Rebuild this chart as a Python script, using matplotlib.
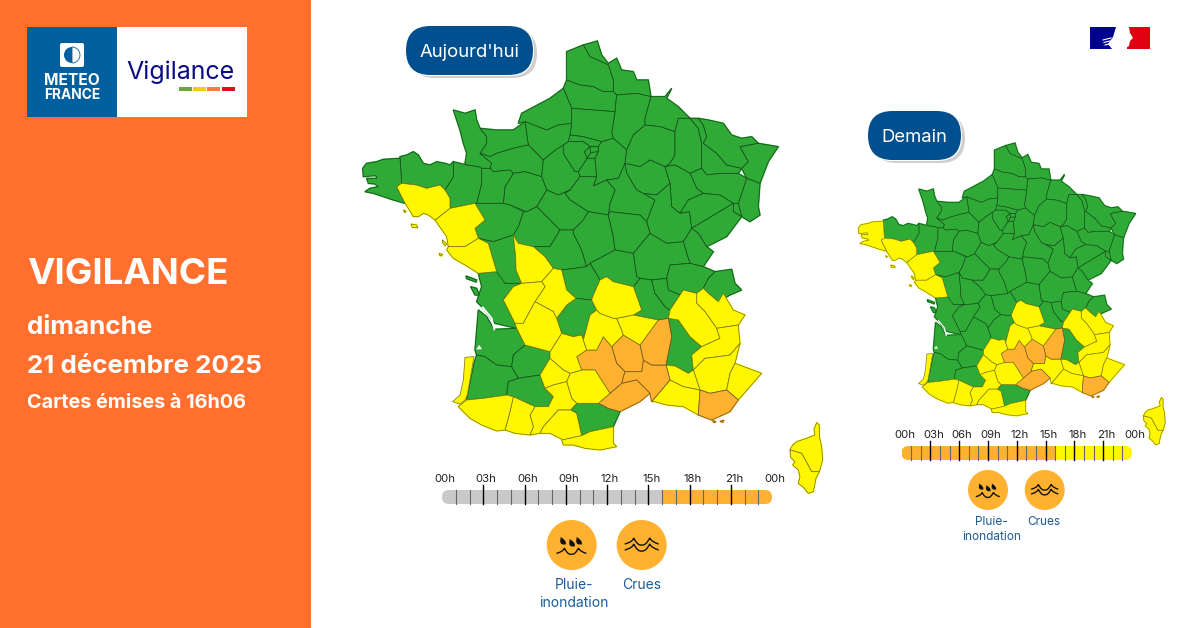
"""Carte de vigilance Meteo-France : deux cartes, frise horaire et pictos."""
import matplotlib
matplotlib.use("Agg")
import matplotlib.pyplot as plt
from matplotlib.patches import Polygon, Circle, Rectangle, FancyBboxPatch, Wedge, PathPatch
from matplotlib.path import Path

plt.rcParams["font.family"] = ["Inter", "DejaVu Sans"]

# ---------- donnees ----------
TITRE = "VIGILANCE"
JOUR = "dimanche"
DATE = "21 décembre 2025"
EMISSION = "Cartes émises à 16h06"
HEURES = ["00h", "03h", "06h", "09h", "12h", "15h", "18h", "21h", "00h"]
RISQUES = ["Pluie-\ninondation", "Crues"]

# niveau par heure (24 valeurs)
FRISE_AUJOURDHUI = ["passe"] * 16 + ["orange"] * 8
FRISE_DEMAIN = ["orange"] * 16 + ["jaune"] * 8

JAUNE_AUJOURDHUI = ["56", "44", "85", "86", "16", "87", "24", "46", "15", "43", "63", "38", "73",
                    "05", "04", "06", "84", "13", "82", "81", "31", "65", "64", "09", "66",
                    "2A", "2B", "40L"]
ORANGE_AUJOURDHUI = ["12", "48", "07", "30", "34", "83"]
JAUNE_DEMAIN = ["29", "56", "44", "85", "63", "15", "43", "46", "82", "81", "31", "65", "64",
                "09", "66", "30", "84", "13", "04", "05", "06", "38", "73", "2A", "2B", "40L"]
ORANGE_DEMAIN = ["12", "48", "07", "34", "83"]

NORD = {
    "59": [(700,45),(742,33),(755,75),(775,100),(800,85),(815,120),(850,125),(860,150),(895,150),(903,200),(860,190),(800,195),(790,185),(790,150),(775,105),(720,80)],
    "62": [(650,65),(700,45),(720,80),(775,105),(790,150),(790,185),(760,185),(730,170),(690,165),(650,150)],
    "80": [(640,175),(650,150),(690,165),(730,170),(760,185),(790,185),(800,195),(795,245),(730,240),(665,235)],
    "02": [(800,195),(860,190),(903,200),(885,265),(885,285),(850,315),(830,360),(790,325),(785,310),(795,245)],
    "08": [(903,200),(945,200),(965,175),(950,205),(985,230),(1020,265),(985,265),(975,305),(930,290),(885,285),(885,265)],
    "76": [(640,175),(665,235),(665,280),(625,285),(590,300),(525,275),(505,280),(515,250),(600,205)],
    "60": [(665,235),(730,240),(795,245),(785,310),(790,325),(755,335),(700,320),(660,315),(665,280)],
    "27": [(525,275),(590,300),(625,285),(665,280),(660,315),(655,335),(640,345),(610,365),(580,390),(550,360),(535,345),(530,310)],
    "14": [(390,295),(440,300),(490,300),(525,275),(530,310),(535,345),(490,355),(440,370),(420,380),(390,370),(410,340),(410,320)],
    "50": [(310,240),(345,250),(375,240),(380,270),(390,295),(410,320),(410,340),(390,370),(425,400),(420,415),(395,415),(385,410),(350,405),(345,400),(350,370),(340,340),(330,300)],
    "61": [(390,370),(420,380),(440,370),(490,355),(535,345),(550,360),(580,390),(575,440),(525,425),(490,430),(480,420),(430,425),(420,415),(425,400)],
    "28": [(580,390),(610,365),(640,345),(640,370),(675,425),(685,425),(690,440),(660,480),(625,495),(590,480),(575,440)],
    "95": [(660,315),(700,320),(755,335),(745,350),(720,350),(700,335),(655,335)],
    "78": [(640,345),(655,335),(700,335),(720,350),(703,365),(712,385),(685,425),(675,425),(640,370)],
    "91": [(712,385),(735,385),(740,440),(690,440),(685,425)],
    "77": [(745,350),(755,335),(790,325),(830,360),(825,400),(805,445),(770,450),(730,468),(740,440),(735,385),(745,365)],
    "92": [(703,365),(720,350),(722,368),(712,385)],
    "93": [(720,350),(745,350),(745,365),(722,368)],
    "94": [(722,368),(745,365),(735,385),(712,385)],
    "51": [(850,315),(885,285),(930,290),(975,305),(975,375),(960,400),(945,410),(900,390),(870,410),(825,400),(830,360)],
    "55": [(975,305),(985,265),(1020,265),(1045,295),(1055,340),(1055,415),(1020,430),(975,405),(945,410),(960,400),(975,375)],
    "54": [(1020,265),(1045,265),(1060,285),(1070,320),(1060,340),(1100,370),(1130,405),(1175,415),(1165,430),(1110,430),(1070,435),(1055,415),(1055,340),(1045,295)],
    "57": [(1045,265),(1075,270),(1120,280),(1145,315),(1175,325),(1205,320),(1225,340),(1170,350),(1195,395),(1175,415),(1130,405),(1100,370),(1060,340),(1070,320),(1060,285)],
    "67": [(1170,350),(1225,340),(1285,350),(1255,395),(1230,460),(1190,445),(1175,415),(1195,395)],
    "68": [(1190,445),(1230,460),(1225,530),(1230,555),(1200,575),(1175,560),(1165,520)],
    "88": [(1020,430),(1055,415),(1070,435),(1110,430),(1165,430),(1190,445),(1165,520),(1150,520),(1110,495),(1060,490),(1040,475)],
    "10": [(825,400),(870,410),(900,390),(945,410),(960,460),(920,495),(880,490),(860,480),(830,430)],
    "52": [(945,410),(975,405),(1020,430),(1040,475),(1060,490),(1015,510),(990,550),(965,530),(960,460)],
    "70": [(1015,510),(1060,490),(1110,495),(1150,520),(1100,550),(1025,595),(1018,545),(990,550)],
    "90": [(1150,520),(1165,520),(1175,560),(1150,545)],
    "25": [(1025,595),(1100,550),(1150,520),(1150,545),(1175,560),(1130,620),(1070,650),(1045,610)],
    "89": [(770,450),(805,445),(825,400),(830,430),(860,480),(880,490),(915,510),(890,575),(870,555),(780,545),(775,555),(780,520),(795,480)],
    "21": [(880,490),(920,495),(960,460),(965,530),(990,550),(1018,545),(1025,595),(1000,635),(950,640),(900,610),(890,575),(915,510)],
    "45": [(690,440),(740,440),(730,468),(770,450),(795,480),(780,520),(775,555),(715,545),(660,510),(645,490),(660,480)],
    "41": [(590,480),(625,495),(660,480),(645,490),(660,510),(715,545),(700,570),(670,600),(630,600),(600,570),(560,530)],
    "37": [(530,545),(560,530),(600,570),(630,600),(600,650),(550,650),(505,640),(490,615),(505,590),(520,545)],
    "72": [(490,430),(525,425),(575,440),(590,480),(560,530),(530,545),(480,525),(460,520),(465,470)],
    "53": [(395,415),(420,415),(430,425),(480,420),(490,430),(465,470),(460,520),(380,520),(395,460)],
    "35": [(310,395),(350,405),(385,410),(395,415),(395,460),(380,520),(375,520),(300,535),(300,505),(285,480),(310,440)],
    "49": [(375,520),(380,520),(460,520),(480,525),(520,545),(505,590),(490,615),(430,635),(385,625),(375,595),(405,570)],
    "44": [(375,520),(405,570),(375,595),(385,625),(345,650),(295,650),(290,620),(255,570),(300,535)],
    "56": [(140,470),(155,460),(200,465),(230,475),(270,465),(285,480),(300,505),(300,535),(255,570),(235,555),(220,550),(205,560),(190,560),(175,535),(165,520)],
    "22": [(150,380),(170,375),(190,365),(205,375),(220,400),(240,405),(260,395),(285,400),(300,405),(310,395),(310,440),(285,480),(270,465),(230,475),(200,465),(155,460)],
    "29": [(38,415),(50,400),(80,395),(100,388),(150,385),(155,460),(140,470),(165,520),(130,510),(100,500),(70,490),(45,485),(60,475),(85,470),(75,462),(55,460),(50,445),(80,445),(78,437),(60,438),(40,440)],
    "85": [(295,650),(345,650),(385,625),(415,640),(440,725),(385,730),(345,705),(310,685),(290,660)],
    "79": [(415,640),(385,625),(430,635),(490,615),(497,680),(498,720),(515,760),(465,760),(420,730),(440,725)],
    "86": [(490,615),(505,640),(550,650),(585,680),(610,715),(575,755),(515,760),(498,720),(497,680)],
    "36": [(600,650),(630,600),(670,600),(670,610),(695,660),(710,710),(635,720),(610,715),(585,680),(550,650)],
    "18": [(700,570),(715,545),(775,555),(790,620),(795,660),(720,700),(710,710),(695,660),(670,610),(670,600)],
    "58": [(775,555),(780,545),(870,555),(890,575),(900,610),(850,670),(795,660),(790,620)],
    "39": [(1000,635),(1025,595),(1045,610),(1070,650),(1090,665),(1060,710),(1020,700),(1010,670)],
    "71": [(900,610),(950,640),(1000,635),(1010,670),(1020,700),(960,705),(950,745),(905,750),(870,745),(860,740),(850,670)],
}

# meme echelle, ordonnees comptees depuis le bas de l'hexagone (+600)
SUD = {
    "01": [(950,145),(960,105),(1020,100),(1060,110),(1095,125),(1075,145),(1060,175),(1040,190),(1000,180),(990,195),(955,180)],
    "74": [(1095,125),(1145,118),(1155,160),(1175,180),(1140,195),(1105,215),(1075,190),(1060,175),(1075,145)],
    "73": [(1040,190),(1060,175),(1075,190),(1105,215),(1120,190),(1150,240),(1185,255),(1165,285),(1100,295),(1065,245),(1040,220)],
    "38": [(955,265),(960,240),(990,195),(1000,180),(1040,190),(1040,220),(1065,245),(1100,295),(1110,325),(1055,350),(1020,320),(985,270)],
    "26": [(955,265),(985,270),(1020,320),(1055,350),(1025,375),(1030,420),(1015,430),(975,408),(948,405),(965,320)],
    "05": [(1025,375),(1055,350),(1110,325),(1100,295),(1165,285),(1170,340),(1140,375),(1105,380),(1065,385),(1030,420)],
    "04": [(1030,420),(1065,385),(1105,380),(1140,375),(1170,340),(1155,400),(1140,430),(1130,480),(1080,490),(1050,480)],
    "06": [(1155,400),(1235,430),(1200,470),(1165,510),(1130,480),(1140,430)],
    "84": [(948,405),(975,408),(1015,430),(1030,420),(1050,480),(1000,470),(960,450)],
    "13": [(905,515),(960,450),(1000,470),(1050,480),(1045,555),(1000,530),(950,525),(915,515)],
    "83": [(1050,480),(1080,490),(1130,480),(1165,510),(1140,545),(1085,570),(1045,555)],
    "30": [(825,425),(875,425),(880,390),(905,405),(948,405),(960,450),(905,515),(900,490),(860,450),(815,460),(820,440)],
    "34": [(745,520),(780,490),(815,460),(860,450),(900,490),(870,515),(810,545),(775,535)],
    "07": [(870,345),(925,270),(955,265),(965,320),(948,405),(905,405),(880,390)],
    "48": [(785,350),(820,315),(870,345),(880,390),(875,425),(825,425),(800,400)],
    "12": [(680,380),(710,360),(740,360),(760,320),(785,350),(800,400),(825,425),(820,440),(815,460),(780,490),(735,420),(695,420)],
    "81": [(650,455),(660,430),(695,420),(735,420),(780,490),(745,520),(710,520),(680,520),(665,505)],
    "46": [(600,365),(635,310),(670,320),(695,315),(700,330),(710,360),(680,380),(695,420),(660,430),(640,420),(600,385)],
    "15": [(700,330),(720,255),(740,240),(750,250),(790,265),(800,265),(815,300),(820,315),(785,350),(760,320),(740,360),(710,360)],
    "43": [(800,265),(850,255),(925,270),(870,345),(820,315),(815,300)],
    "42": [(850,170),(870,145),(905,150),(915,190),(945,230),(960,240),(955,265),(925,270),(850,255),(875,240)],
    "69": [(905,150),(950,145),(955,180),(990,195),(960,240),(945,230),(915,190)],
    "63": [(750,150),(770,140),(790,155),(850,170),(875,240),(850,255),(800,265),(790,265),(750,250),(740,240),(725,210),(730,195)],
    "03": [(720,100),(795,60),(850,70),(860,140),(870,145),(850,170),(790,155),(770,140),(750,150)],
    "23": [(635,120),(710,110),(720,100),(750,150),(730,195),(725,210),(678,205),(650,180)],
    "19": [(620,265),(650,225),(678,205),(725,210),(740,240),(720,255),(700,330),(695,315),(670,320),(635,310)],
    "87": [(575,155),(610,115),(635,120),(650,180),(678,205),(650,225),(620,265),(610,245),(555,215),(585,170)],
    "16": [(460,210),(490,170),(515,160),(575,155),(585,170),(555,215),(520,280),(495,280)],
    "17": [(385,130),(440,125),(465,160),(515,160),(490,170),(460,210),(495,280),(500,295),(435,280),(400,235),(380,215),(395,170)],
    "24": [(500,295),(495,280),(520,280),(555,215),(610,245),(620,265),(635,310),(600,365),(525,345)],
    "33": [(385,240),(410,260),(432,298),(500,295),(525,345),(490,375),(485,410),(440,405),(405,380),(380,375),(375,360)],
    "40": [(380,375),(405,380),(440,405),(485,410),(505,445),(475,455),(470,495),(400,505),(350,510),(372,400)],
    "40L": [(345,382),(372,380),(352,495),(345,510),(330,522),(308,515),(330,495),(340,450)],
    "47": [(490,375),(525,345),(600,365),(600,385),(570,435),(505,445),(485,410)],
    "82": [(570,435),(600,385),(640,420),(660,430),(650,455),(610,465),(585,475)],
    "32": [(475,455),(505,445),(570,435),(585,475),(610,500),(595,530),(555,530),(490,500),(470,495)],
    "31": [(585,475),(610,465),(650,455),(665,505),(680,520),(662,540),(625,540),(580,590),(570,610),(540,615),(550,590),(540,555),(555,530),(595,530),(610,500)],
    "65": [(490,500),(555,530),(540,555),(550,590),(540,615),(495,610),(465,600),(480,545)],
    "64": [(325,530),(350,510),(400,505),(470,495),(490,500),(480,545),(465,600),(440,603),(395,585),(360,565)],
    "09": [(580,590),(625,540),(662,540),(680,550),(695,617),(640,630),(600,610),(570,610)],
    "11": [(662,540),(680,520),(710,520),(745,520),(775,535),(810,545),(790,590),(720,605),(695,617),(680,550)],
    "66": [(635,630),(695,617),(720,605),(790,590),(790,640),(800,650),(750,660),(705,655),(670,645),(640,645)],
    "2B": [(1400,578),(1408,585),(1408,620),(1415,650),(1418,690),(1408,725),(1385,725),(1355,670),(1320,660),(1328,645),(1340,635),(1370,625),(1395,615),(1392,598)],
    "2A": [(1320,660),(1355,670),(1385,725),(1408,725),(1398,745),(1395,760),(1390,785),(1375,790),(1360,772),(1345,760),(1350,740),(1345,720),(1328,705),(1335,695),(1322,682)],
    # iles
    "17r": [(348,138),(380,150),(378,156),(350,146)],
    "17o": [(362,170),(380,175),(388,195),(375,195)],
    "85n": [(277,30),(290,42),(285,47),(278,38)],
    "85y": [(268,70),(277,73),(275,78),(268,75)],
    "83h": [(1088,572),(1098,575),(1092,578)],
    "83p": [(1110,574),(1122,571),(1118,577)],
}
ILES_NORD = {
    "56b": [(183,582),(200,585),(203,593),(187,592)],
    "56g": [(160,540),(168,544),(165,548)],
}
# rattachement des iles au departement pour la couleur
PARENT = {"17r": "17", "17o": "17", "85n": "85", "85y": "85", "83h": "83", "83p": "83",
          "56b": "56", "56g": "56"}

VERT = "#2FAA37"
JAUNE = "#FFF600"
ORANGE = "#FFB12F"
GRIS = "#C9C9C9"
FOND_GAUCHE = "#FF702E"
BLEU = "#00508F"
BLEU_TEXTE = "#1B5C98"
TRAITS = {VERT: "#17501C", JAUNE: "#7A7A12", ORANGE: "#6E5A1C"}

fig = plt.figure(figsize=(12, 6.28), dpi=100)
ax = fig.add_axes([0, 0, 1, 1])
ax.set_xlim(0, 1200)
ax.set_ylim(628, 0)
ax.axis("off")


# ---------- carte ----------
def contours():
    for code, pts in NORD.items():
        yield code, pts
    for code, pts in ILES_NORD.items():
        yield code, pts
    for code, pts in SUD.items():
        yield code, [(u, v + 600) for u, v in pts]


def draw_map(x0, y0, echelle, jaunes, oranges, lw):
    # la grande carte a echelle=1 : x = x0 + u/3
    def to_px(pts):
        return [(x0 + echelle * u / 3, y0 + echelle * v / 3) for u, v in pts]

    def couleur(code):
        code = PARENT.get(code, code)
        if code in oranges:
            return ORANGE
        if code in jaunes:
            return JAUNE
        return VERT

    # 1re passe : aplats un peu debordants pour boucher les jointures
    shapes = list(contours())
    for code, pts in shapes:
        c = couleur(code)
        if code == "40L":
            continue
        ax.add_patch(Polygon(to_px(pts), closed=True, fc=c, ec=c, lw=1.2, zorder=2))
    for code, pts in shapes:
        c = couleur(code)
        ax.add_patch(Polygon(to_px(pts), closed=True, fc=c, ec=TRAITS[c], lw=lw,
                             zorder=3 if c == VERT else 4, joinstyle="round"))
    # estuaire de la Gironde
    est = to_px([(398, 832), (425, 865), (433, 898)])
    ax.plot(*zip(*est), color="white", lw=1.3 * echelle, zorder=5)
    bassin = to_px([(378, 958), (388, 945), (396, 958)])
    ax.add_patch(Polygon(bassin, fc="white", ec="none", zorder=5))


draw_map(350, 30, 1.0, JAUNE_AUJOURDHUI, ORANGE_AUJOURDHUI, 0.55)
draw_map(858 - 12 * 0.669, 143 - 11 * 0.665, 0.667, JAUNE_DEMAIN, ORANGE_DEMAIN, 0.45)


# ---------- frise horaire ----------
def draw_frise(x0, x1, y0, y1, y_top, y_lab, niveaux, fs):
    couleurs = {"passe": GRIS, "orange": ORANGE, "jaune": JAUNE}
    pas = (x1 - x0) / len(niveaux)
    h = y1 - y0
    clip = FancyBboxPatch((x0, y0), x1 - x0, h, boxstyle=f"round,pad=0,rounding_size={h / 2}",
                          fc="none", ec="none", transform=ax.transData)
    ax.add_patch(clip)
    for i, niv in enumerate(niveaux):
        r = ax.add_patch(Rectangle((x0 + i * pas, y0), pas + 0.3, h, fc=couleurs[niv], ec="none", zorder=2))
        r.set_clip_path(clip)
    for i in range(1, len(niveaux)):
        if i % 3:
            ax.plot([x0 + i * pas] * 2, [y0, y1], color="#666666", lw=0.8, zorder=3)
        else:
            ax.plot([x0 + i * pas] * 2, [y_top, y1], color="black", lw=1.0, zorder=3)
    for i, lab in enumerate(HEURES):
        ax.text(x0 + i * 3 * pas + 3, y_lab, lab, ha="center", va="center", fontsize=fs,
                color="#222222", zorder=3)


draw_frise(442, 772, 490, 504, 485, 479.5, FRISE_AUJOURDHUI, 8.2)
draw_frise(901.5, 1132, 446, 460, 441, 435.5, FRISE_DEMAIN, 8.2)


# ---------- pictos ----------
def goutte(cx, cy, k):
    verts = [(cx - 3 * k, cy - 5 * k), (cx + 3.5 * k, cy - 1 * k), (cx + 2 * k, cy + 2.5 * k), (cx - 0.5 * k, cy + 2.5 * k),
             (cx - 3.5 * k, cy + 2.5 * k), (cx - 3.5 * k, cy - 1 * k), (cx - 3 * k, cy - 5 * k)]
    codes = [Path.MOVETO, Path.CURVE3, Path.CURVE3, Path.LINETO, Path.CURVE3, Path.CURVE3, Path.CLOSEPOLY]
    ax.add_patch(PathPatch(Path(verts, codes), fc="#111111", ec="none", zorder=4))


def vague(cx, cy, k, lw):
    # deux bosses
    verts = [(cx - 17 * k, cy + 1 * k), (cx - 9 * k, cy - 1 * k), (cx - 8 * k, cy - 5 * k),
             (cx - 4 * k, cy + 3 * k), (cx + 0 * k, cy + 2 * k),
             (cx + 4 * k, cy + 3 * k), (cx + 8 * k, cy - 5 * k),
             (cx + 10 * k, cy - 1 * k), (cx + 17 * k, cy + 1 * k)]
    codes = [Path.MOVETO] + [Path.CURVE3] * 8
    ax.add_patch(PathPatch(Path(verts, codes), fc="none", ec="#111111", lw=lw, zorder=4))


def draw_pictos(xs, yc, r, lab_xs, lab_ys, fs):
    k = r / 25
    ax.add_patch(Circle((xs[0], yc), r, fc=ORANGE, ec="none", zorder=2))
    ax.add_patch(Circle((xs[1], yc), r, fc=ORANGE, ec="none", zorder=2))
    for dx, dy in [(-8, -3), (1, -1), (8, -3)]:
        goutte(xs[0] + dx * k, yc + dy * k, k)
    vague(xs[0] - 0.3 * k, yc + 7.5 * k, k * 0.88, 1.0)
    vague(xs[1], yc - 2 * k, k, 1.0)
    vague(xs[1], yc + 4 * k, k, 1.0)
    l1, l2 = RISQUES[0].split("\n")
    ax.text(lab_xs[0], lab_ys[0], l1, ha="center", va="center", fontsize=fs, color=BLEU_TEXTE, zorder=4)
    ax.text(lab_xs[1], lab_ys[1], l2, ha="center", va="center", fontsize=fs, color=BLEU_TEXTE, zorder=4)
    ax.text(lab_xs[2], lab_ys[0], RISQUES[1], ha="center", va="center", fontsize=fs, color=BLEU_TEXTE, zorder=4)


draw_pictos((571.7, 641.7), 545, 25, (574, 574, 641.7), (585, 603), 10)
draw_pictos((988, 1044.7), 490, 20, (991.7, 991.3, 1044.3), (522, 537), 8.5)


# ---------- etiquettes ----------
def draw_pastille(x, y, w, h, label, fs):
    kw = dict(boxstyle=f"round,pad=0,rounding_size={h / 2}")
    ax.add_patch(FancyBboxPatch((x + 4, y + 3), w, h, fc="#CFCFCF", ec="none", zorder=5, **kw))
    ax.add_patch(FancyBboxPatch((x - 0.5, y - 0.5), w + 1.5, h + 1.5, fc="white", ec="none", zorder=6, **kw))
    ax.add_patch(FancyBboxPatch((x, y), w, h, fc=BLEU, ec="none", zorder=7, **kw))
    ax.text(x + w / 2, y + h / 2 + 2, label, color="white", ha="center", va="center", fontsize=fs,
            zorder=8)


draw_pastille(406, 26, 127, 49, "Aujourd'hui", 13.3)
draw_pastille(868, 111, 93, 49, "Demain", 13.3)

# ---------- panneau gauche ----------
ax.add_patch(Rectangle((0, 0), 311, 628, fc=FOND_GAUCHE, ec="none", zorder=1))
ax.add_patch(Rectangle((27, 27), 220, 90, fc="white", ec="none", zorder=2))
ax.add_patch(Rectangle((27, 27), 90, 90, fc="#005F9E", ec="none", zorder=3))
ax.add_patch(FancyBboxPatch((60, 43), 24, 24, boxstyle="round,pad=0,rounding_size=2", fc="white", ec="none", zorder=4))
ax.add_patch(Wedge((72, 55), 8, 90, 270, fc="#005F9E", ec="none", zorder=5))
ax.add_patch(Wedge((72, 55), 8, -90, 90, fc="none", ec="#005F9E", lw=0.6, zorder=5))
ax.text(72, 80.5, "METEO", color="white", ha="center", va="center", fontsize=11.2, fontweight="bold", zorder=5)
ax.text(72, 95, "FRANCE", color="white", ha="center", va="center", fontsize=9.9, fontweight="bold", zorder=5)
ax.text(180.5, 72, "Vigilance", color="#0A0A85", ha="center", va="center", fontsize=18, zorder=5)
for x, c in zip((179, 193.3, 207.3, 221.7), ("#6FA63B", "#F9C81A", "#F5803C", "#DC0F1E")):
    ax.add_patch(Rectangle((x, 87), 13, 4.2, fc=c, ec="none", zorder=5))

ax.text(27, 274, TITRE, color="white", fontsize=26.5, fontweight="bold", va="center", zorder=5)
ax.text(27, 328, JOUR, color="white", fontsize=18.7, fontweight="bold", va="center", zorder=5)
ax.text(27, 366.5, DATE, color="white", fontsize=18.7, fontweight="bold", va="center", zorder=5)
ax.text(27, 402.5, EMISSION, color="white", fontsize=14.3, fontweight="bold", va="center", zorder=5)

# ---------- drapeau ----------
ax.add_patch(Rectangle((1090, 27), 28, 22, fc="#000091", ec="none", zorder=2))
ax.add_patch(Rectangle((1127, 27), 23, 22, fc="#E1000F", ec="none", zorder=2))
ax.add_patch(Polygon([(1116, 27), (1129, 27), (1130, 33), (1133, 38), (1130, 41), (1129, 46), (1124, 49), (1112, 49),
                      (1108, 44), (1113, 37)], fc="white", ec="none", zorder=3))
for y, x_deb in zip((39, 41.5, 44), (1103, 1104, 1105)):
    ax.plot([x_deb, x_deb + 8], [y + 1, y - 1], color="white", lw=0.8, zorder=3)

fig.savefig("out.png", dpi=100)
